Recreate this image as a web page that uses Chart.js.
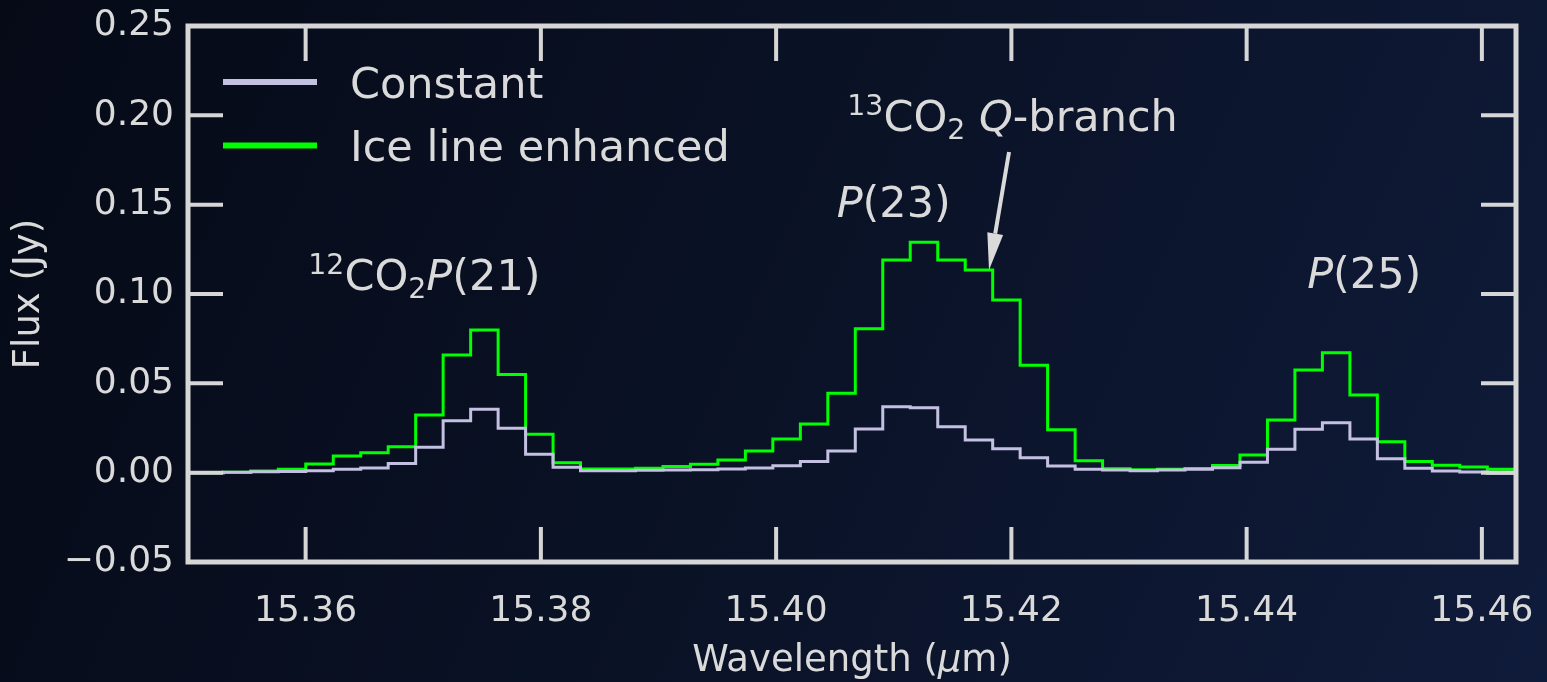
<!DOCTYPE html>
<html>
<head>
<meta charset="utf-8">
<script src="https://cdn.jsdelivr.net/npm/chart.js@4.4.1/dist/chart.umd.min.js"></script>
<style>
html, body { margin: 0; padding: 0; background: #0a1226; overflow: hidden; }
#wrap { width: 1547px; height: 682px; position: relative; }
</style>
</head>
<body>
<div id="wrap"><canvas id="chart"></canvas></div>
<script>
// Data (bin centres in micron, flux in Jy)
const wavelength = [
  15.34950, 15.35184, 15.35417, 15.35651, 15.35884, 15.36118, 15.36352, 15.36585, 15.36819, 15.37052,
  15.37286, 15.37520, 15.37753, 15.37987, 15.38220, 15.38454, 15.38687, 15.38921, 15.39155, 15.39388,
  15.39622, 15.39855, 15.40089, 15.40323, 15.40556, 15.40790, 15.41023, 15.41257, 15.41491, 15.41724,
  15.41958, 15.42191, 15.42425, 15.42659, 15.42892, 15.43126, 15.43359, 15.43593, 15.43827, 15.44060,
  15.44294, 15.44527, 15.44761, 15.44995, 15.45228, 15.45462, 15.45695, 15.45929, 15.46163, 15.46396
];
const fluxConstant = [
  0.0000, 0.0000, 0.0002, 0.0005, 0.0006, 0.0011, 0.0019, 0.0026, 0.0052, 0.0142,
  0.0290, 0.0355, 0.0248, 0.0103, 0.0030, 0.0011, 0.0011, 0.0013, 0.0015, 0.0017,
  0.0021, 0.0026, 0.0039, 0.0062, 0.0121, 0.0244, 0.0369, 0.0364, 0.0257, 0.0183,
  0.0134, 0.0084, 0.0037, 0.0019, 0.0015, 0.0011, 0.0015, 0.0019, 0.0028, 0.0058,
  0.0131, 0.0243, 0.0280, 0.0188, 0.0078, 0.0025, 0.0010, 0.0004, -0.0003, -0.0003
];
const fluxEnhanced = [
  0.0000, 0.0000, 0.0003, 0.0010, 0.0019, 0.0049, 0.0093, 0.0112, 0.0145, 0.0323,
  0.0658, 0.0798, 0.0550, 0.0215, 0.0056, 0.0020, 0.0020, 0.0025, 0.0034, 0.0047,
  0.0071, 0.0121, 0.0188, 0.0272, 0.0444, 0.0805, 0.1190, 0.1289, 0.1190, 0.1135,
  0.0966, 0.0601, 0.0240, 0.0067, 0.0022, 0.0017, 0.0019, 0.0024, 0.0040, 0.0099,
  0.0295, 0.0574, 0.0671, 0.0435, 0.0173, 0.0062, 0.0041, 0.0032, 0.0019, 0.0019
];
const seriesLabels = ['Constant', 'Ice line enhanced'];
const xTicks = [15.36, 15.38, 15.40, 15.42, 15.44, 15.46];
const yTicks = [-0.05, 0.00, 0.05, 0.10, 0.15, 0.20, 0.25];

// line labels: [wavelength, flux] of the text centre / baseline, and the text pieces
const lineLabels = [
  { at: [15.3701, 0.1022], parts: [['12', 'sup'], ['CO', ''], ['2', 'sub'], ['P', 'it'], ['(21)', '']] },
  { at: [15.4100, 0.1432], parts: [['P', 'it'], ['(23)', '']] },
  { at: [15.4201, 0.1911], parts: [['13', 'sup'], ['CO', ''], ['2', 'sub'], [' ', ''], ['Q', 'it'], ['-branch', '']] },
  { at: [15.4500, 0.1031], parts: [['P', 'it'], ['(25)', '']] }
];
const arrowFrom = [15.4198, 0.1795];
const arrowTo = [15.4181, 0.1134];

const TXT = '#dadada';
const FRAME = '#d6d6d6';
const FAMILY = '"DejaVu Sans", sans-serif';
const lineColors = ['#c4c0e2', '#00ff00'];

function drawRich(ctx, parts, cx, baseline, size) {
  const items = parts.map(([t, kind]) => {
    let font = size + 'px ' + FAMILY, dy = 0;
    if (kind === 'sup') { font = (size * 0.66) + 'px ' + FAMILY; dy = -size * 0.37; }
    if (kind === 'sub') { font = (size * 0.66) + 'px ' + FAMILY; dy = size * 0.19; }
    if (kind === 'it') font = 'italic ' + size + 'px ' + FAMILY;
    ctx.font = font;
    return { t, font, dy, w: ctx.measureText(t).width };
  });
  const total = items.reduce((s, i) => s + i.w, 0);
  let x = cx - total / 2;
  ctx.textAlign = 'left';
  ctx.textBaseline = 'alphabetic';
  items.forEach(i => {
    ctx.font = i.font;
    ctx.fillText(i.t, x, baseline + i.dy);
    x += i.w;
  });
}

const bgPlugin = {
  id: 'bg',
  beforeDraw(chart) {
    const { ctx, width, height } = chart;
    const g = ctx.createLinearGradient(0, 0, width, height);
    g.addColorStop(0, '#060a17');
    g.addColorStop(0.5, '#0a1226');
    g.addColorStop(1, '#0f1b3a');
    ctx.save();
    ctx.fillStyle = g;
    ctx.fillRect(0, 0, width, height);
    ctx.restore();
  }
};

const framePlugin = {
  id: 'frame',
  afterDraw(chart) {
    const { ctx, chartArea: a, scales: { x, y } } = chart;
    ctx.save();

    // inward ticks on all four sides
    ctx.strokeStyle = FRAME;
    ctx.lineWidth = 4;
    ctx.beginPath();
    xTicks.forEach(v => {
      const px = x.getPixelForValue(v);
      ctx.moveTo(px, a.bottom); ctx.lineTo(px, a.bottom - 35);
      ctx.moveTo(px, a.top); ctx.lineTo(px, a.top + 35);
    });
    yTicks.forEach(v => {
      const py = y.getPixelForValue(v);
      ctx.moveTo(a.left, py); ctx.lineTo(a.left + 35, py);
      ctx.moveTo(a.right, py); ctx.lineTo(a.right - 35, py);
    });
    ctx.stroke();
    ctx.lineWidth = 5;
    ctx.strokeRect(a.left, a.top, a.right - a.left, a.bottom - a.top);

    // legend
    chart.data.datasets.forEach((ds, i) => {
      const ly = a.top + 56 + i * 63.5;
      ctx.strokeStyle = ds.borderColor;
      ctx.lineWidth = 6;
      ctx.beginPath();
      ctx.moveTo(a.left + 35, ly); ctx.lineTo(a.left + 129, ly);
      ctx.stroke();
      ctx.fillStyle = TXT;
      ctx.font = '43px ' + FAMILY;
      ctx.textAlign = 'left';
      ctx.textBaseline = 'alphabetic';
      ctx.fillText(ds.label, a.left + 162, ly + 15.7);
    });

    // line labels
    ctx.fillStyle = TXT;
    lineLabels.forEach(l => {
      drawRich(ctx, l.parts, x.getPixelForValue(l.at[0]), y.getPixelForValue(l.at[1]), 43);
    });

    // arrow
    const x0 = x.getPixelForValue(arrowFrom[0]), y0 = y.getPixelForValue(arrowFrom[1]);
    const x1 = x.getPixelForValue(arrowTo[0]), y1 = y.getPixelForValue(arrowTo[1]);
    const ang = Math.atan2(y1 - y0, x1 - x0);
    const headLen = 37, headHalf = 8;
    const bx = x1 - headLen * Math.cos(ang), by = y1 - headLen * Math.sin(ang);
    ctx.strokeStyle = TXT;
    ctx.lineWidth = 4;
    ctx.beginPath();
    ctx.moveTo(x0, y0); ctx.lineTo(bx, by);
    ctx.stroke();
    ctx.beginPath();
    ctx.moveTo(x1, y1);
    ctx.lineTo(bx + headHalf * Math.sin(ang), by - headHalf * Math.cos(ang));
    ctx.lineTo(bx - headHalf * Math.sin(ang), by + headHalf * Math.cos(ang));
    ctx.closePath();
    ctx.fill();

    // axis titles
    ctx.font = '37px ' + FAMILY;
    ctx.textBaseline = 'alphabetic';
    const midX = (a.left + a.right) / 2;
    const p1 = 'Wavelength (', p2 = '\u03bc', p3 = 'm)';
    const w1 = ctx.measureText(p1).width, w3 = ctx.measureText(p3).width;
    ctx.font = 'italic 37px ' + FAMILY;
    const w2 = ctx.measureText(p2).width;
    let tx = midX - (w1 + w2 + w3) / 2;
    ctx.textAlign = 'left';
    ctx.font = '37px ' + FAMILY; ctx.fillText(p1, tx, 671); tx += w1;
    ctx.font = 'italic 37px ' + FAMILY; ctx.fillText(p2, tx, 671); tx += w2;
    ctx.font = '37px ' + FAMILY; ctx.fillText(p3, tx, 671);

    ctx.translate(29, (a.top + a.bottom) / 2);
    ctx.rotate(-Math.PI / 2);
    ctx.textAlign = 'center';
    ctx.textBaseline = 'middle';
    ctx.fillText('Flux (Jy)', 0, 0);
    ctx.restore();
  }
};

const tickFont = { family: 'DejaVu Sans', size: 36 };

new Chart(document.getElementById('chart'), {
  type: 'line',
  data: {
    datasets: [
      {
        label: seriesLabels[0],
        data: wavelength.map((w, i) => ({ x: w, y: fluxConstant[i] })),
        borderColor: lineColors[0],
        borderWidth: 3,
        stepped: 'middle',
        pointRadius: 0,
        fill: false
      },
      {
        label: seriesLabels[1],
        data: wavelength.map((w, i) => ({ x: w, y: fluxEnhanced[i] })),
        borderColor: lineColors[1],
        borderWidth: 3,
        stepped: 'middle',
        pointRadius: 0,
        fill: false
      }
    ]
  },
  options: {
    responsive: true,
    maintainAspectRatio: false,
    devicePixelRatio: 1,
    animation: false,
    layout: { padding: { left: 0, right: 31, top: 26, bottom: 0 } },
    plugins: { legend: { display: false }, tooltip: { enabled: false } },
    scales: {
      x: {
        type: 'linear',
        min: 15.35,
        max: 15.4629,
        afterBuildTicks: s => { s.ticks = xTicks.map(v => ({ value: v })); },
        afterFit: s => { s.height = 120; s.paddingLeft = 0; s.paddingRight = 0; },
        grid: { display: false, drawTicks: false },
        border: { display: false },
        ticks: {
          color: TXT, font: tickFont, padding: 28, maxRotation: 0, autoSkip: false,
          callback: v => v.toFixed(2)
        }
      },
      y: {
        type: 'linear',
        min: -0.05,
        max: 0.25,
        afterBuildTicks: s => { s.ticks = yTicks.map(v => ({ value: v })); },
        afterFit: s => { s.width = 188; s.paddingTop = 0; s.paddingBottom = 0; },
        grid: { display: false, drawTicks: false },
        border: { display: false },
        ticks: {
          color: TXT, font: tickFont, padding: 14, autoSkip: false,
          callback: v => (v < -1e-9 ? '\u2212' : '') + Math.abs(v).toFixed(2)
        }
      }
    }
  },
  plugins: [bgPlugin, framePlugin]
});
</script>
</body>
</html>
